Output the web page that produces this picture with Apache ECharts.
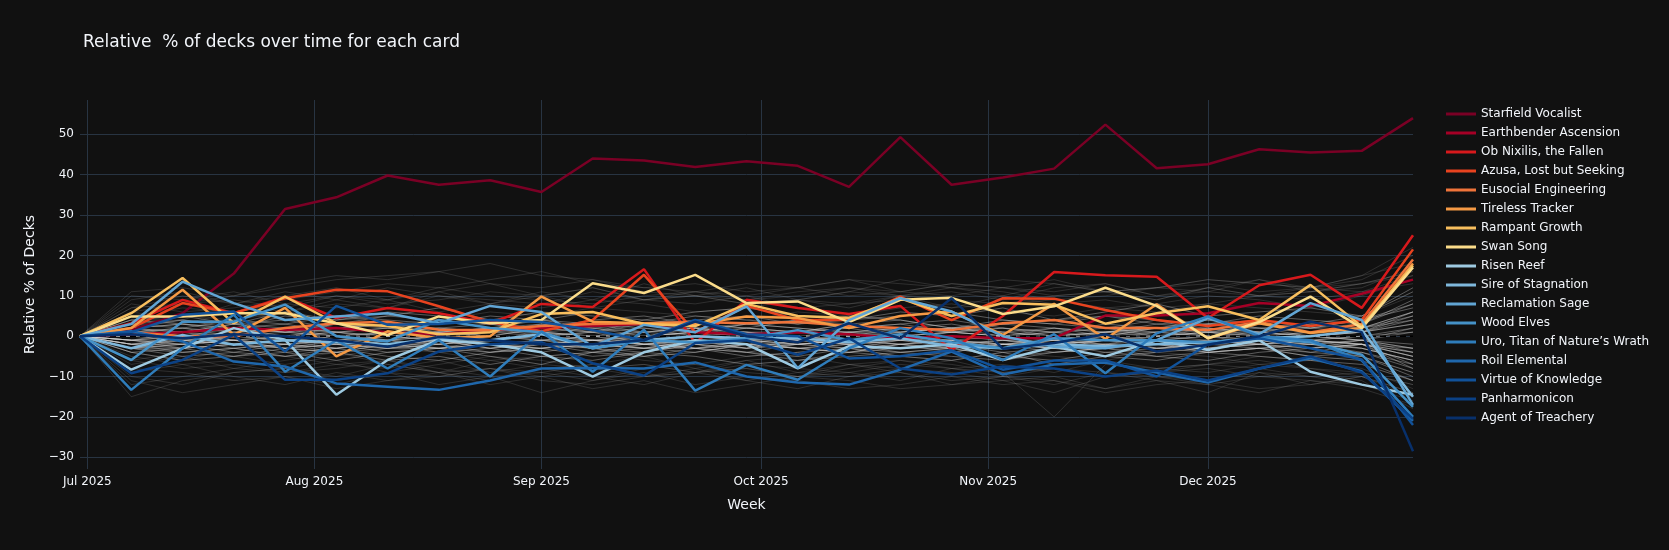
<!DOCTYPE html>
<html>
<head>
<meta charset="utf-8">
<script src="https://cdn.jsdelivr.net/npm/echarts@6/dist/echarts.min.js"></script>
<style>
html,body{margin:0;padding:0;background:#111111;}
#chart{width:1669px;height:550px;}
</style>
</head>
<body>
<div id="chart"></div>
<script>
const weeks = ['2025-06-30','2025-07-07','2025-07-14','2025-07-21','2025-07-28','2025-08-04','2025-08-11','2025-08-18','2025-08-25','2025-09-01','2025-09-08','2025-09-15','2025-09-22','2025-09-29','2025-10-06','2025-10-13','2025-10-20','2025-10-27','2025-11-03','2025-11-10','2025-11-17','2025-11-24','2025-12-01','2025-12-08','2025-12-15','2025-12-22','2025-12-29'];

const cardNames = ['Starfield Vocalist','Earthbender Ascension','Ob Nixilis, the Fallen','Azusa, Lost but Seeking','Eusocial Engineering','Tireless Tracker','Rampant Growth','Swan Song','Risen Reef','Sire of Stagnation','Reclamation Sage','Wood Elves','Uro, Titan of Nature\u2019s Wrath','Roil Elemental','Virtue of Knowledge','Panharmonicon','Agent of Treachery'];

const starfieldVocalist = [0,1.5,5.7,15.5,31.5,34.4,39.8,37.5,38.6,35.7,44.0,43.5,41.9,43.3,42.2,37.0,49.3,37.5,39.3,41.5,52.4,41.6,42.6,46.3,45.5,45.9,54.0];
const earthbenderAscension = [0,0.5,1,2,1.5,2,1,0.5,1.5,2,2.5,3,1,0.5,1,0.5,-0.5,0,-0.5,-0.5,5.1,5.1,5.7,8.2,7.5,10.5,14];
const obNixilis = [0,3.2,9,5.7,9.7,4.5,7,5.7,3.2,8,7.2,16.6,-1.7,9,7,5.5,7.5,-3.4,5,15.9,15.1,14.7,4.5,12.6,15.2,7,25];
const azusa = [0,2,8.2,5.7,9.4,11.5,11.1,7.4,3.5,1.2,4,15.2,1,7.5,4,4,9.8,4,9.4,9.3,6.5,4,2.5,4,2.5,4,21.5];
const eusocialEngineering = [0,1,0,0,2,3.2,3.6,1.6,1.5,2.5,3,3.2,3.5,3.2,3.5,2.5,2,1.5,3.2,4,2,2,1.5,3.5,0.9,3,19];
const tirelessTracker = [0,2,11.5,0.3,7,-5,1.2,-0.5,0,9.8,3.6,3.2,3,4.9,4.5,2,5,6.1,0.3,8,-0.7,7.9,-0.5,3.2,0.8,2,18];
const rampantGrowth = [0,5.7,14.4,3.2,9.8,3.2,2.5,0.5,1,5.5,6,3,2.5,8,5,4.5,9.4,5,8.2,7.8,3.1,5.7,7.4,4,12.7,2.4,17.5];
const swanSong = [0,4.9,4.9,5.7,5.7,3.2,0.3,4.9,3.2,4,13.1,10.7,15.2,8.2,8.6,3.5,9,9.5,5.5,7.4,12,7.5,-0.5,3.5,9.8,2,17];
const risenReef = [0,-8.3,-3,2,-0.9,-14.5,-5.9,-0.9,-2,-4,-10,-4,-1,-2,-8,-2.5,-3,-2,-5.9,-2.6,-5,-1,-3.4,-1,-8.8,-12,-14.5];
const sireOfStagnation = [0,-3,0.3,-2.1,-1,-1.5,-2,-0.5,-1,0.5,-3,-1,0,-0.5,-0.5,-1.5,-0.5,-2.5,-3,-2,-2.5,-2,-1.5,-0.5,0,1.5,-15];
const reclamationSage = [0,3,13.5,8.2,4,4.9,5.7,3.2,7.5,6,-2.6,2.8,1,7.4,-7.9,4,9.4,6.1,0,-2.6,-3,-1,4.5,0.5,8.2,4,-17];
const woodElves = [0,-5.9,3.6,3.6,7.8,0,-1.3,4,2,1,-3,-1,-1.5,-0.5,1.5,-1,0.5,-1.5,-3,-0.5,-1,-1,-1.5,-0.5,-1.5,-4.6,-17.5];
const uroTitan = [0,-13.3,-3,5.3,-8.8,-1,-8,-1,-10,1.2,-8.8,1.6,-13.5,-7.1,-10.8,-3,2,-0.5,-5.9,0.5,-9.2,0.7,4.9,0,-1,-6,-20];
const roilElemental = [0,1.2,-1.3,-6.3,-7.5,-11.7,-12.5,-13.3,-11,-8,-7.9,-8,-6.5,-10,-11.5,-12,-8.3,-3.8,-9.5,-7,-6.5,-9,-11.5,-8,-5.5,-8.7,-21];
const virtueOfKnowledge = [0,1,5.3,6.1,-3.8,7.5,2.8,3,4,3.5,1.5,-1,4,0.5,0,-5.5,-5,-3.5,-8.3,-6,-6,-10,-2,-0.5,-3,-5.8,-22];
const panharmonicon = [0,-9.2,-5.9,0.3,-10.8,-10.8,-9.2,-3.8,-2,-1.5,-6.7,-9.8,-1.7,-1,-4.6,-0.5,-8,-9.5,-7.5,-8,-10,-8.5,-11,-8,-5,-9,-20.5];
const agentOfTreachery = [0,0.5,-0.5,0.5,0,-1,-2.6,-0.2,-1,-2,-2,-1,3.6,0,-1.5,3.2,-0.5,9.4,-3.1,-1.7,0.5,-3.8,-2.1,0,3.6,1,-28.5];

const cardValues = [starfieldVocalist,earthbenderAscension,obNixilis,azusa,eusocialEngineering,tirelessTracker,rampantGrowth,swanSong,risenReef,sireOfStagnation,reclamationSage,woodElves,uroTitan,roilElemental,virtueOfKnowledge,panharmonicon,agentOfTreachery];

const cardColors = ['#7a0025','#a50026','#d7191c','#e8431f','#f0743a','#f59a45','#f8bf5e','#fbdc8a','#9ecae1','#7fb8dc','#61a5d4','#4592c8','#2f7dbb','#1f67ac','#11529a','#0b4185','#08306b'];

// Other cards: wide-spread ones
const otherCardsWide = [
[0,3,5,4,6,8,7,10,9,8,11,9,10,8,9,7,10,11,9,12,13,10,11,14,12,13,15],
[0,-4,-6,-3,-5,-7,-8,-6,-9,-7,-8,-10,-9,-7,-8,-9,-11,-8,-10,-12,-9,-10,-11,-9,-12,-10,-14],
[0,10,9,11,8,10,9,12,10,9,8,10,11,9,10,12,11,13,12,10,11,12,14,13,12,15,18],
[0,-12,-10,-8,-9,-7,-6,-8,-10,-9,-11,-8,-7,-9,-10,-8,-6,-7,-9,-8,-10,-9,-7,-8,-10,-9,-12],
[0,5,7,6,4,5,3,4,6,5,7,6,5,4,6,5,7,8,6,5,7,6,8,7,6,5,10],
[0,-6,-4,-5,-7,-5,-3,-4,-6,-5,-4,-6,-7,-5,-4,-3,-5,-6,-4,-5,-6,-4,-5,-7,-6,-5,-9],
[0,7,8,10,12,14,15,16,13,12,14,11,10,9,11,12,10,9,8,10,11,9,12,10,11,13,16],
[0,-8,-9,-11,-10,-12,-9,-10,-8,-11,-12,-10,-9,-11,-13,-10,-9,-12,-11,-10,-13,-11,-12,-10,-11,-13,-17],
[0,6,4,8,6,9,7,11,8,7,9,8,6,7,9,8,10,7,8,9,7,8,10,9,7,10,14],
[0,-5,-7,-6,-8,-6,-9,-7,-5,-6,-8,-7,-9,-6,-5,-7,-8,-6,-9,-20,-7,-8,-7,-5,-6,-8,-13],
[0,9,11,8,10,12,9,11,13,10,12,9,11,10,12,14,11,10,12,11,13,10,12,14,11,12,17],
[0,-15,-11,-9,-8,-10,-7,-9,-11,-8,-10,-12,-9,-8,-10,-7,-9,-11,-10,-8,-9,-11,-14,-9,-10,-12,-16],
[0,8,6,7,9,11,13,12,14,16,13,12,11,13,12,10,11,13,12,14,11,12,13,11,12,14,20],
[0,-10,-12,-9,-8,-11,-9,-12,-10,-14,-11,-9,-12,-10,-11,-13,-12,-10,-12,-11,-13,-10,-12,-14,-11,-12,-15],
[0,5,3,6,8,7,9,6,8,10,7,9,8,10,7,8,9,7,10,8,9,7,8,10,9,11,13],
[0,-7,-5,-8,-6,-4,-7,-9,-6,-8,-7,-5,-8,-6,-9,-7,-6,-8,-7,-9,-6,-8,-7,-6,-8,-9,-12],
[0,11,12,10,13,15,14,16,18,15,14,12,13,11,12,14,13,12,14,13,11,12,14,13,12,15,22],
[0,-9,-7,-10,-12,-9,-11,-10,-8,-9,-7,-10,-8,-11,-9,-10,-8,-9,-11,-14,-10,-9,-8,-10,-9,-11,-18],
[0,6,8,9,7,10,8,9,11,10,12,9,10,8,9,11,10,12,11,9,10,12,11,10,12,11,15],
[0,-6,-8,-7,-9,-8,-6,-9,-8,-10,-8,-7,-9,-8,-10,-9,-7,-8,-9,-8,-10,-8,-9,-7,-8,-10,-14],
[0,7,10,8,11,9,12,10,8,11,9,13,10,12,9,11,14,12,10,13,11,9,12,10,11,13,16],
[0,-11,-14,-12,-10,-13,-11,-9,-12,-10,-13,-11,-14,-12,-10,-11,-13,-12,-10,-11,-14,-12,-11,-13,-12,-10,-15]
];

// Other cards: the dense core around zero
const otherCardsCore = [
[0,2,1,3,2,0,1,2,3,1,2,0,1,3,2,1,2,3,1,2,0,2,3,1,2,4,8],
[0,-2,-1,-3,-2,-1,-2,-3,-1,-2,-3,-2,-1,-3,-2,-1,-2,-4,-2,-3,-1,-2,-3,-2,-1,-3,-6],
[0,1,-1,0,2,-1,0,1,-1,0,1,-2,0,1,-1,0,-1,1,0,-2,-1,0,1,-1,0,1,3],
[0,-1,-2,0,-1,-3,-1,-2,0,-1,-2,-1,-3,-2,0,-1,-2,-1,-3,-1,-2,0,-1,-2,-3,-1,-4],
[0,4,3,2,5,4,6,5,3,4,2,3,5,4,3,5,4,2,3,4,5,3,4,2,3,5,12],
[0,-3,-5,-4,-2,-3,-5,-6,-4,-3,-5,-4,-2,-4,-5,-3,-4,-5,-6,-4,-3,-5,-4,-3,-5,-6,-11],
[0,2,3,1,0,2,1,-1,0,2,1,3,2,0,1,2,3,1,0,2,1,2,0,1,3,2,6],
[0,-2,0,-1,-3,-2,0,-1,-2,-4,-2,-1,-2,-3,-1,-2,-4,-3,-2,-1,-3,-2,-4,-3,-2,-4,-8],
[0,3,2,4,3,1,2,4,3,2,4,5,3,2,1,3,4,2,3,4,2,1,3,4,2,3,9],
[0,-3,-1,-2,-4,-3,-1,-3,-2,-1,-3,-4,-2,-1,-3,-2,-1,-3,-2,-4,-3,-1,-2,-3,-4,-2,-7],
[0,1,2,0,1,3,2,1,0,2,3,1,0,2,1,3,0,1,2,0,1,3,2,0,1,2,5],
[0,-1,0,-2,-1,0,-2,-1,-3,-1,0,-2,-1,-3,-2,-1,0,-2,-1,-3,-2,-1,0,-2,-1,-2,-5],
[0,4,5,3,6,4,5,7,4,6,5,4,6,7,5,4,6,5,7,4,6,8,5,6,7,5,11],
[0,-4,-3,-5,-4,-6,-4,-3,-5,-7,-4,-5,-3,-4,-6,-5,-4,-3,-5,-6,-4,-5,-6,-4,-3,-5,-10],
[0,0,1,-1,0,1,0,-1,1,0,-1,0,1,0,-1,1,0,-1,0,1,-1,0,1,0,-1,0,2],
[0,-2,-3,-2,-1,-2,-4,-3,-2,-3,-1,-2,-3,-4,-2,-3,-2,-1,-3,-2,-4,-3,-2,-1,-3,-2,-3],
[0,2,4,3,1,3,5,4,2,3,1,4,3,2,4,3,1,2,4,3,2,4,1,3,2,4,7],
[0,-3,-2,-4,-5,-3,-2,-4,-3,-5,-4,-2,-3,-5,-4,-3,-5,-4,-2,-3,-5,-4,-3,-2,-4,-5,-9],
[0,1,0,2,1,0,-1,1,2,0,1,2,0,-1,1,0,2,1,0,1,2,0,1,2,0,1,4],
[0,-1,-3,-2,0,-2,-3,-1,-2,-3,-2,0,-2,-3,-1,-2,-3,-2,-1,-2,0,-3,-2,-1,-2,-3,-6],
[0,3,4,2,3,5,4,3,5,4,6,3,4,5,3,4,5,6,4,3,5,4,3,5,4,3,8],
[0,-4,-6,-5,-3,-4,-6,-5,-7,-5,-6,-4,-5,-7,-6,-4,-5,-6,-4,-7,-5,-6,-4,-5,-6,-7,-11],
[0,2,1,3,4,2,3,1,2,4,3,2,1,3,4,2,3,4,2,1,3,2,4,3,2,1,6],
[0,-2,-4,-3,-5,-4,-2,-3,-4,-2,-3,-5,-4,-2,-3,-4,-2,-3,-5,-4,-3,-2,-4,-3,-5,-4,-7],
[0,-1,1,2,0,-1,1,0,2,1,-1,0,2,1,0,-1,1,2,0,-1,1,0,2,1,0,-1,1],
[0,-3,-2,-1,-3,-4,-2,-1,-3,-2,-4,-3,-1,-2,-3,-4,-2,-3,-1,-2,-3,-4,-2,-1,-3,-2,-5],
[0,-1,-2,-1,-2,-1,-3,-2,-1,-2,-1,-2,-3,-1,-2,-1,-2,-1,-2,-3,-1,-2,-1,-2,-1,-2,-4],
[0,1,0,-1,0,1,-1,0,-1,1,0,-1,0,-1,0,1,-1,0,-1,0,-1,1,0,-1,0,-1,2],
[0,-2,-1,-2,-3,-1,-2,-1,-3,-2,-1,-3,-2,-1,-2,-3,-1,-2,-3,-2,-1,-2,-3,-1,-2,-1,-3],
[0,2,3,2,1,2,3,2,1,3,2,1,2,3,2,1,2,1,3,2,1,2,3,2,1,2,4],
[0,-3,-4,-3,-2,-4,-3,-2,-4,-3,-2,-3,-4,-2,-3,-4,-3,-2,-4,-3,-2,-3,-4,-3,-2,-3,-6],
[0,0,-1,0,-1,0,-1,-2,-1,0,-1,-2,-1,0,-1,-2,0,-1,-2,-1,0,-1,-2,-1,0,-1,-2],
[0,-1,-1,-2,-1,-2,-2,-1,-2,-1,-1,-2,-2,-1,-1,-2,-1,-1,-2,-2,-1,-2,-1,-1,-2,-1,-3],
[0,1,2,1,2,1,0,1,2,1,0,1,2,1,1,0,1,2,1,0,1,2,1,1,0,1,3],
[0,-2,-2,-1,-2,-3,-2,-2,-1,-2,-2,-3,-1,-2,-2,-1,-3,-2,-2,-1,-2,-3,-2,-2,-1,-2,-5],
[0,0,1,0,0,-1,0,1,0,-1,0,0,1,0,-1,0,0,1,0,-1,0,1,0,0,-1,0,1],
[0,-1,0,-1,-2,-1,-1,0,-1,-2,-1,-1,0,-1,-2,-1,-1,0,-1,-2,-1,-1,0,-1,-1,-2,-4],
[0,1,1,2,1,0,1,2,1,1,0,1,2,1,0,1,1,2,1,0,1,1,2,1,0,1,5],
[0,-3,-3,-2,-3,-2,-3,-3,-2,-3,-2,-3,-3,-2,-3,-2,-3,-3,-2,-3,-2,-3,-3,-2,-3,-2,-8],
[0,2,0,1,2,1,2,0,1,2,1,0,1,2,1,2,0,1,2,1,0,2,1,0,1,2,6]
];

const chart = echarts.init(document.getElementById('chart'), null, {renderer:'canvas'});
const FONT = 'DejaVu Sans, Verdana, sans-serif';
const MONTHS = ['Jan','Feb','Mar','Apr','May','Jun','Jul','Aug','Sep','Oct','Nov','Dec'];

const series = [];
function addOther(list, color, tag) {
  list.forEach((vals, gi) => {
    series.push({
      name: tag + gi, type: 'line', showSymbol: false, silent: true,
      data: weeks.map((w, i) => [w, vals[i]]),
      lineStyle: {width: 1, color: color},
      z: 1
    });
  });
}
addOther(otherCardsWide, 'rgba(150,150,150,0.22)', 'wide');
addOther(otherCardsCore, 'rgba(210,210,210,0.38)', 'core');

series.push({
  name: 'zero', type: 'line', showSymbol: false, silent: true,
  data: [[weeks[0], 0], [weeks[weeks.length - 1], 0]],
  lineStyle: {width: 1.5, color: '#000000', type: [6, 4]},
  z: 2
});
cardNames.forEach((n, ci) => {
  series.push({
    name: n, type: 'line', showSymbol: false,
    data: weeks.map((w, i) => [w, cardValues[ci][i]]),
    lineStyle: {width: 2.5, color: cardColors[ci]},
    itemStyle: {color: cardColors[ci]},
    z: 3
  });
});

chart.setOption({
  backgroundColor: '#111111',
  animation: false,
  title: {
    text: 'Relative  % of decks over time for each card',
    left: 78, top: 29,
    textStyle: {color: '#f2f5fa', fontSize: 17, fontWeight: 'normal', fontFamily: FONT}
  },
  legend: {
    data: cardNames,
    orient: 'vertical',
    left: 1441, top: 102,
    icon: 'rect',
    itemWidth: 30, itemHeight: 3,
    itemGap: 5,
    textStyle: {color: '#f2f5fa', fontSize: 12, fontFamily: FONT, lineHeight: 14},
    selectedMode: false
  },
  grid: {left: 80, right: 256, top: 100, bottom: 81, containLabel: false},
  xAxis: {
    type: 'time',
    min: weeks[0], max: weeks[weeks.length - 1],
    name: 'Week', nameLocation: 'middle', nameGap: 29,
    nameTextStyle: {color: '#f2f5fa', fontSize: 14, fontFamily: FONT},
    axisLine: {show: false}, axisTick: {show: false},
    splitNumber: 6,
    axisLabel: {
      color: '#f2f5fa', fontSize: 12, fontFamily: FONT, margin: 7,
      showMinLabel: false, showMaxLabel: false,
      formatter: function (v) { const d = new Date(v); return MONTHS[d.getMonth()] + ' ' + d.getFullYear(); }
    },
    splitLine: {show: true, lineStyle: {color: '#283442', width: 1}, showMinLine: false, showMaxLine: false}
  },
  yAxis: {
    type: 'value',
    min: -32.9, max: 58.5, splitNumber: 9,
    name: 'Relative % of Decks', nameLocation: 'middle', nameGap: 43,
    nameTextStyle: {color: '#f2f5fa', fontSize: 14, fontFamily: FONT},
    axisLine: {show: false}, axisTick: {show: false},
    axisLabel: {
      color: '#f2f5fa', fontSize: 12, fontFamily: FONT, margin: 6,
      showMinLabel: false, showMaxLabel: false,
      formatter: function (v) { return v < 0 ? '\u2212' + Math.abs(v) : String(v); }
    },
    splitLine: {show: true, lineStyle: {color: '#283442', width: 1}, showMinLine: false, showMaxLine: false}
  },
  series: series
});
</script>
</body>
</html>
